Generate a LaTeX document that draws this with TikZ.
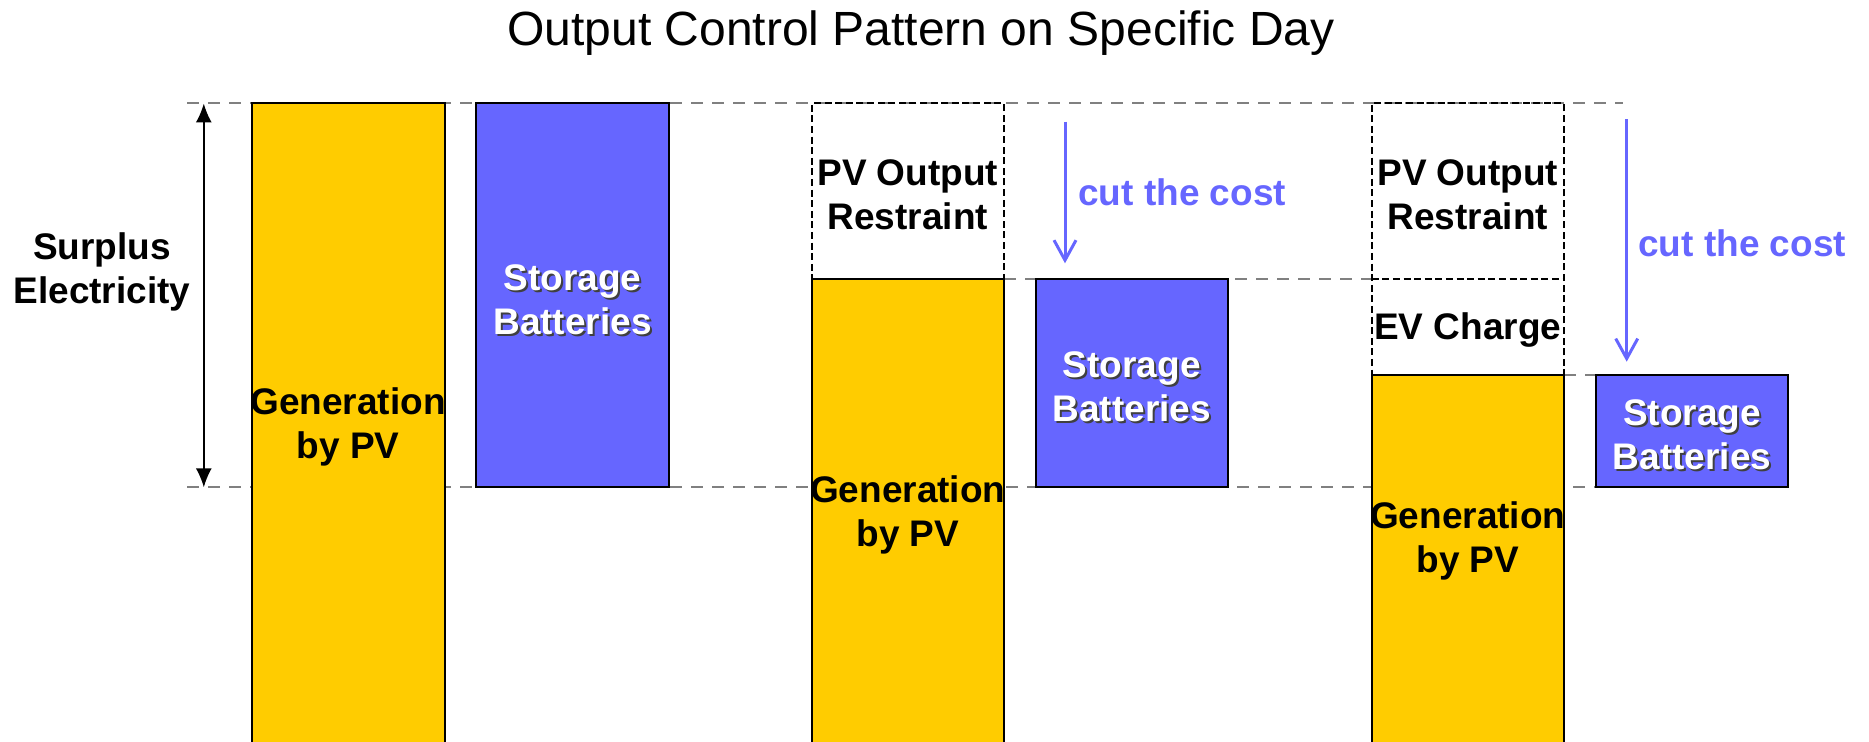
\documentclass[tikz,border=0pt]{standalone}
\usepackage{fontspec}
\setmainfont{Liberation Sans}
\usetikzlibrary{arrows.meta,fit}
\definecolor{pvyellow}{HTML}{FFCC00}
\definecolor{batblue}{HTML}{6666FF}
\definecolor{guidegrey}{HTML}{808080}
\definecolor{cutblue}{HTML}{6666FF}
\begin{document}
\begin{tikzpicture}[x=0.5pt,y=-0.5pt,
  guide/.style={draw=guidegrey,line width=1pt,dash pattern=on 6pt off 4.5pt},
  pvbar/.style={draw=black,line width=1pt,fill=pvyellow,inner sep=0pt,outer sep=0pt},
  batbox/.style={draw=black,line width=1pt,fill=batblue,inner sep=0pt,outer sep=0pt},
  cutbox/.style={draw=black,line width=1pt,dash pattern=on 3.5pt off 1.8pt,inner sep=0pt,outer sep=0pt},
  lbl/.style={font=\bfseries\fontsize{18.5}{22}\selectfont,align=center,inner sep=0pt},
  wlbl/.style={lbl,text=white},
  slbl/.style={lbl,text=black!75},
  cutlbl/.style={lbl,text=cutblue,anchor=west},
  cutarrow/.style={draw=cutblue,line width=1.5pt,-{Straight Barb[length=10pt,width=11pt,line width=1.5pt]}},
  dimarrow/.style={draw=black,line width=0.8pt,{Latex[length=9.5pt,width=8pt]}-{Latex[length=9.5pt,width=8pt]}}
]
\useasboundingbox (0,0) rectangle (1869,742);

% title
\node[font=\fontsize{24}{28}\selectfont,anchor=base,inner sep=0pt] (title) at (921,45.5) {Output Control Pattern on Specific Day};

% guide lines
\coordinate (gtl) at (187,103.5);  \coordinate (gtr) at (1623,103.5);
\coordinate (gml) at (1004,279.3); \coordinate (gmr) at (1371.7,279.3);
\coordinate (gll) at (1564,375);   \coordinate (glr) at (1595.7,375);
\coordinate (gbl) at (187,487.3);  \coordinate (gbr) at (1788.3,487.3);
\draw[guide] (gtl) -- (gtr);
\draw[guide] (gml) -- (gmr);
\draw[guide] (gll) -- (glr);
\draw[guide] (gbl) -- (gbr);

% column 1
\node[pvbar,fit={(251.7,103.5) (444.8,770)}] (gen1) {};
\node[batbox,fit={(476,103.5) (669,487.3)}] (bat1) {};

% column 2
\node[cutbox,fit={(811.7,103.5) (1004,279.3)}] (res2) {};
\node[pvbar,fit={(811.7,279.3) (1004,770)}] (gen2) {};
\node[batbox,fit={(1035.7,279.3) (1227.7,487.3)}] (bat2) {};

% column 3
\node[cutbox,fit={(1371.7,103.5) (1564,375)}] (res3) {};
\coordinate (divl) at (1371.7,279.3); \coordinate (divr) at (1564,279.3);
\draw[black,line width=1pt,dash pattern=on 3.5pt off 1.8pt] (divl) -- (divr);
\node[pvbar,fit={(1371.7,375) (1564,770)}] (gen3) {};
\node[batbox,fit={(1595.7,375) (1788.3,487.3)}] (bat3) {};

% surplus dimension arrow
\coordinate (dimt) at (203.8,103.5); \coordinate (dimb) at (203.8,487.3);
\draw[dimarrow] (dimt) -- (dimb);
\node[lbl] (surplus) at (102,272) {Surplus\\Electricity};

% cut the cost arrows
\coordinate (c2s) at (1065,121.7); \coordinate (c2e) at (1065,263.3);
\draw[cutarrow] (c2s) -- (c2e);
\node[cutlbl] (cut2) at (1078,192) {cut the cost};
\coordinate (c3s) at (1626.7,119.3); \coordinate (c3e) at (1626.7,361.7);
\draw[cutarrow] (c3s) -- (c3e);
\node[cutlbl] (cut3) at (1638,243) {cut the cost};

% labels in bars
\node[lbl] (gen1t) at (348,427) {Generation\\by PV};
\node[lbl] (gen2t) at (907.8,515) {Generation\\by PV};
\node[lbl] (gen3t) at (1467.8,540.5) {Generation\\by PV};
\node[lbl] (res2t) at (907.8,194.5) {PV Output\\Restraint};
\node[lbl] (res3t) at (1467.8,194.5) {PV Output\\Restraint};
\node[lbl] (evt) at (1467.8,330) {EV Charge};

% storage labels with shadow
\node[slbl] (bat1s) at (574.5,301.5) {Storage\\Batteries};
\node[wlbl] (bat1t) at (572.5,299.5) {Storage\\Batteries};
\node[slbl] (bat2s) at (1133.7,389) {Storage\\Batteries};
\node[wlbl] (bat2t) at (1131.7,387) {Storage\\Batteries};
\node[slbl] (bat3s) at (1694,437) {Storage\\Batteries};
\node[wlbl] (bat3t) at (1692,435) {Storage\\Batteries};
\end{tikzpicture}
\end{document}
